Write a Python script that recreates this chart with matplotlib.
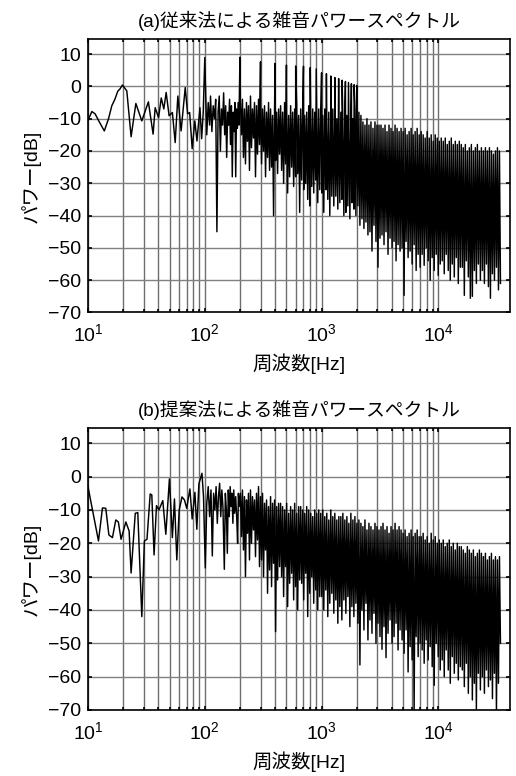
import numpy as np
import matplotlib
matplotlib.use('Agg')
import matplotlib.pyplot as plt
from matplotlib.ticker import FixedLocator, NullFormatter

plt.rcParams['font.family'] = ['Liberation Sans', 'Noto Sans CJK JP']
plt.rcParams['axes.unicode_minus'] = True

# ---- (a) conventional method ----
# 10 - 200 Hz, read point by point (Hz, dB)
low_a = [(10, -10.5), (10.8, -7.8), (11.5, -8.5), (12.5, -11), (13.8, -13.8), (15, -10),
         (16, -6), (17, -4), (18, -1.5), (18.8, -0.8), (19.7, 0.4), (21.5, -1.4),
         (23.4, -15.6), (25.7, -5.3), (28.9, -10.7), (32.9, -4.8), (36.1, -14.8),
         (37.6, -6.6), (40.2, -9.7), (42.4, -3.6), (44.6, -7), (46.7, -1.9), (49.5, -9.1),
         (52.8, -8.1), (55.8, -17.4), (58.8, -3), (62.7, -13.8), (68, -0.4), (71.3, -8.5),
         (74.2, -8.1), (78, -19.3), (82.2, -10.7), (85.7, -16.9), (90.9, -6.6), (94, -16.2),
         (97, -8), (100, 8.9),
         (104, -15), (107, -5), (110, -12), (112, -3), (115, -14), (118, -6), (121, -10),
         (124, -4), (127, -45), (130, -8), (133, -3), (136, -20), (139, -7), (142, -12),
         (145, -2), (148, -15), (151, -6), (154, -22), (157, -8), (160, -12), (163, -4),
         (166, -18), (169, -6), (172, -28), (175, -8), (178, -14), (181, -5), (184, -28),
         (187, -7), (190, -13), (193, -5), (196, -12)]

# 200 Hz - 34 kHz: upper / lower swing of the dense band
hi_a = [-5, -4, -7, -5, -6, -3, -7, -5, -6, -4,
        -5, -7, -6, -8, -5, -7, -9, -6, -8, -7,
        -6, -8, -5, -7, -9, -6, -8, -7, -5, -9,
        -7, -6, -9, -8, -6, -9, -7, -8, -9, -7,
        -8, -9, -7, -10, -8, -10, -7, -9, -10, -8,
        -8, -10, -7, -9, -10, -8, -10, -7, -9, -8,
        -9, -11, -12, -10, -12, -11, -13, -11, -12, -12,
        -12, -13, -12, -14, -12, -13, -14, -12, -13, -14,
        -13, -14, -13, -15, -14, -13, -15, -14, -13, -15,
        -14, -15, -16, -14, -16, -15, -17, -15, -16, -17,
        -16, -17, -16, -18, -17, -16, -18, -17, -18, -17,
        -18, -19, -18, -20, -19, -18, -20, -19, -18, -20,
        -19, -20, -19, -20, -19, -20, -21, -20, -19, -20]
lo_a = [-15, -22, -24, -17, -26, -19, -16, -28, -21, -18,
        -24, -20, -28, -22, -26, -25, -40, -23, -27, -21,
        -26, -30, -24, -33, -28, -25, -31, -28, -27, -39,
        -29, -32, -30, -35, -37, -31, -33, -29, -36, -32,
        -33, -39, -32, -35, -40, -34, -37, -34, -38, -36,
        -35, -40, -39, -37, -41, -36, -38, -40, -37, -43,
        -41, -44, -42, -46, -45, -51, -43, -48, -56, -47,
        -46, -49, -45, -52, -47, -50, -48, -54, -49, -51,
        -50, -64.7, -48, -53, -51, -55, -49, -57, -52, -56,
        -52, -55.4, -50, -54, -60, -53, -57, -52, -58.5, -55,
        -54, -58, -52, -57, -60, -55, -59, -53, -61, -56,
        -56, -64.7, -54, -59, -65.6, -65, -57, -61, -55, -60,
        -57, -61, -55, -62, -65.6, -58, -60, -56, -63, -61]

# 100 Hz harmonics (tall spikes)
harm_f_a = [200, 300, 400, 500, 600, 700, 800, 900, 1000, 1100,
            1200, 1300, 1400, 1500, 1600, 1700, 1800, 1900, 2000]
harm_db_a = [9, 7.6, 7.1, 6.6, 6.3, 6.2, 5.8, 5.4, 4.2, 3.9,
             3.2, 2.7, 2.4, 1.9, 1.5, 1.2, 0.8, 0.5, 0.3]

# ---- (b) proposed method ----
low_b = [(10, -3), (12.3, -19.3), (13.3, -9.4), (14.2, -9.5), (15.1, -17.5), (16.2, -18.3),
         (17.3, -13), (18.2, -13.6), (19.2, -18.8), (21.1, -13.6), (22.5, -16.3),
         (23.4, -28.9), (25.4, -11), (26.7, -10.8), (28.9, -42), (30.4, -19.3), (32, -18.8),
         (34.1, -5.2), (35.2, -5.5), (36.8, -23.5), (38.6, -8.7), (40.5, -10), (43.7, -7.2),
         (46.4, -17.3), (49.8, -0.7), (52.8, -18.3), (55, -6.7), (57.6, -25), (60.4, -10),
         (63.8, -6.1), (67, -7), (70, -9.5), (74.6, -3.7), (78, -12.7), (82.3, -4.7),
         (85.5, -15.8), (89, -2.2), (94.6, 1), (97.5, -6), (101, -27.4),
         (104, -8), (107, -3), (110, -12), (113, -4), (116, -23.8), (119, -5), (122, -10),
         (125, -3), (128, -14), (131, -6), (134, -2), (137, -12), (140, -4), (143, -9),
         (147, -27.8), (150, -5), (153, -10), (156, -23), (159, -4), (162, -12), (165, -3),
         (168, -9), (171, -5), (174, -14), (177, -4), (180, -11), (184, -6), (188, -13),
         (191, -20), (194, -5), (197, -9)]

hi_b = [-5, -4, -6, -7, -5, -4, -6, -7, -5, -3,
        -6, -5, -8, -7, -9, -6, -8, -7, -9, -8,
        -8, -9, -10, -8, -11, -9, -10, -8, -11, -9,
        -9, -10, -11, -9, -10, -11, -12, -10, -11, -10,
        -11, -10, -12, -11, -13, -10, -12, -11, -13, -12,
        -12, -11, -13, -12, -14, -11, -13, -12, -14, -13,
        -14, -15, -13, -16, -14, -15, -16, -14, -15, -16,
        -15, -14, -16, -15, -17, -15, -16, -14, -16, -15,
        -16, -17, -16, -18, -17, -16, -18, -17, -16, -18,
        -18, -17, -19, -18, -20, -17, -19, -18, -20, -19,
        -20, -19, -21, -20, -19, -21, -20, -22, -20, -21,
        -21, -22, -23, -21, -22, -23, -22, -24, -23, -22,
        -23, -24, -23, -25, -24, -23, -25, -24, -25, -24]
lo_b = [-18, -22, -30, -17, -25, -20, -16, -24, -19, -27,
        -25, -30, -22, -35, -28, -33, -26, -46.5, -31, -27,
        -30, -36, -27, -39, -32, -29, -37, -33, -40, -31,
        -32, -37, -29, -42, -35, -30, -38, -34, -40, -36,
        -36, -40, -34, -42, -38, -35, -41, -37, -44, -39,
        -43, -37, -41, -36, -45, -39, -42, -38, -44, -56.5,
        -40, -46, -38, -49, -43, -47, -41, -50, -44, -48,
        -51.8, -45, -54.3, -47, -43, -50, -48, -44, -52, -46,
        -49, -53, -46, -58.6, -51, -55, -70, -48, -54, -50,
        -52, -56, -49, -55, -51, -57, -62.6, -50, -54, -58,
        -55, -60, -52, -58, -62, -54, -59, -56, -61, -57,
        -58, -63, -56, -65, -60, -67, -62, -69.7, -59, -64,
        -60, -65, -58, -63, -61, -66.6, -59, -71, -62, -50]

titles = ['(a)従来法による雑音パワースペクトル', '(b)提案法による雑音パワースペクトル']
xlabel = '周波数[Hz]'
ylabel = 'パワー[dB]'


def build(low, hi, lo, f_peaks=(), db_peaks=()):
    f_low, db_low = zip(*low)
    n = len(hi)
    # FFT bins above 200 Hz, alternating between band top and bottom
    f_dense = np.geomspace(202, 34000, 2 * n)
    db_dense = np.empty(2 * n)
    db_dense[0::2] = hi
    db_dense[1::2] = lo
    f = np.concatenate([f_low, f_dense, f_peaks])
    d = np.concatenate([db_low, db_dense, db_peaks])
    order = np.argsort(f, kind='stable')
    return f[order], d[order]


minor_x = [k * 10 ** e for e in (1, 2, 3) for k in range(2, 10)]


def style(ax, title):
    ax.set_xscale('log')
    ax.set_xlim(10, 41000)
    ax.set_ylim(-70, 14.5)
    ax.set_yticks(np.arange(-70, 11, 10))
    ax.xaxis.set_major_locator(FixedLocator([10, 100, 1000, 10000]))
    ax.xaxis.set_minor_locator(FixedLocator(minor_x))
    ax.xaxis.set_minor_formatter(NullFormatter())
    ax.grid(True, which='both', axis='x', color='#6e6e6e', lw=1.0)
    ax.grid(True, which='major', axis='y', color='#808080', lw=1.0)
    ax.set_axisbelow(True)
    ax.tick_params(which='both', direction='in', top=True, right=True,
                   labelsize=14, width=1.2)
    ax.tick_params(axis='x', which='major', length=3, pad=8)
    ax.tick_params(axis='y', which='major', length=3, pad=5)
    ax.tick_params(which='minor', length=2.5)
    for sp in ax.spines.values():
        sp.set_linewidth(1.2)
    ax.set_title(title, fontsize=13.5, pad=9)
    ax.set_xlabel(xlabel, fontsize=14, labelpad=6)
    ax.set_ylabel(ylabel, fontsize=14, labelpad=5)


fig = plt.figure(figsize=(5.16, 7.76), dpi=100)
ax1 = fig.add_axes([0.1705, 0.5973, 0.8178, 0.3518])
ax2 = fig.add_axes([0.1705, 0.0851, 0.8178, 0.3630])

fa, da = build(low_a, hi_a, lo_a, harm_f_a, harm_db_a)
fb, db = build(low_b, hi_b, lo_b)

ax1.plot(fa, da, color='black', lw=1.05)
ax2.plot(fb, db, color='black', lw=1.05)
style(ax1, titles[0])
style(ax2, titles[1])

fig.savefig('out.png', dpi=100)
